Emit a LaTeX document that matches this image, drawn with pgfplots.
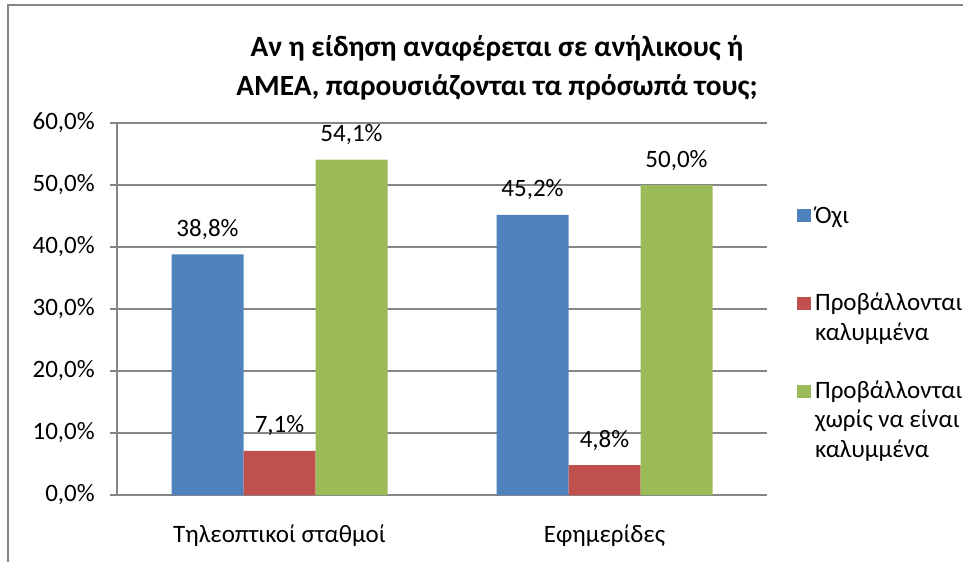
\documentclass[border=0pt]{standalone}
\usepackage{fontspec}
\setmainfont{Carlito}
\usepackage{pgfplots}
\pgfplotsset{compat=1.18}
\definecolor{exblue}{HTML}{4F81BD}
\definecolor{exred}{HTML}{C0504D}
\definecolor{exgreen}{HTML}{9BBB59}
\definecolor{exgrid}{HTML}{868686}
\newcommand{\chartfont}{\fontsize{18.75}{21.75}\selectfont}

\begin{document}
\begin{tikzpicture}
\useasboundingbox (0,0) rectangle (722.25pt,421.5pt);
% chart frame (only left and top edges are visible)
\draw[exgrid, line width=1.5pt] (6pt,0) -- (6pt,417.75pt) -- (722.25pt,417.75pt);
\node[font=\bfseries\fontsize{22}{29.25}\selectfont, align=center]
  at (372.75pt,370.9pt) {Αν η είδηση αναφέρεται σε ανήλικους ή\\ΑΜΕΑ, παρουσιάζονται τα πρόσωπά τους;};
\begin{axis}[
    at={(87.75pt,50.25pt)}, anchor=south west,
    scale only axis, width=487.5pt, height=279pt,
    ybar=0pt, bar width=54pt,
    xmin=-0.5, xmax=1.5, ymin=0, ymax=60,
    xtick={0,1},
    xticklabels={Τηλεοπτικοί σταθμοί, Εφημερίδες},
    x tick style={draw=none},
    extra x ticks={-0.5,0.5,1.5},
    extra x tick labels={},
    extra x tick style={major tick length=6pt, tick style={exgrid, line width=1.2pt, draw=exgrid}},
    ytick={0,10,...,60},
    tick align=outside,
    major tick length=5.25pt,
    y tick style={exgrid, line width=1.2pt},
    axis x line*=bottom, axis y line*=left,
    axis line style={exgrid, line width=1.2pt},
    ymajorgrids, grid style={exgrid, line width=1.2pt},
    tick label style={font=\chartfont},
    /pgf/number format/assume math mode=true,
    yticklabel={\pgfmathprintnumber[fixed,fixed zerofill,precision=1,use comma]{\tick}\%},
    yticklabel style={anchor=east, inner sep=0pt, xshift=-11.25pt},
    xticklabel style={anchor=base, inner sep=0pt, yshift=-30pt},
    nodes near coords={\pgfmathprintnumber[fixed,fixed zerofill,precision=1,use comma]{\pgfplotspointmeta}\%},
    every node near coord/.append style={font=\chartfont, anchor=base, inner sep=0pt, yshift=13.5pt},
    legend style={at={(1.046,0.789)}, anchor=north west, draw=none, fill=none,
        font=\chartfont, inner sep=0pt, row sep=2.45pt,
        cells={anchor=base west, inner ysep=0pt},
        /tikz/every even column/.append style={text height=14pt, text depth=4pt},
        /tikz/every odd column/.append style={column sep=1pt}},
    legend image code/.code={\fill[#1, draw=none] (0pt,0.75pt) rectangle (10.5pt,10.5pt);},
]
\addplot[fill=exblue, draw=none] coordinates {(0,38.8) (1,45.2)};
\addlegendentry{Όχι}
\addlegendimage{empty legend}\addlegendentry{}
\addlegendimage{empty legend}\addlegendentry{}
\addplot[fill=exred, draw=none] coordinates {(0,7.1) (1,4.8)};
\addlegendentry{Προβάλλονται}
\addlegendimage{empty legend}\addlegendentry{καλυμμένα}
\addlegendimage{empty legend}\addlegendentry{}
\addplot[fill=exgreen, draw=none] coordinates {(0,54.1) (1,50.0)};
\addlegendentry{Προβάλλονται}
\addlegendimage{empty legend}\addlegendentry{χωρίς να είναι}
\addlegendimage{empty legend}\addlegendentry{καλυμμένα}
\end{axis}
\end{tikzpicture}
\end{document}
